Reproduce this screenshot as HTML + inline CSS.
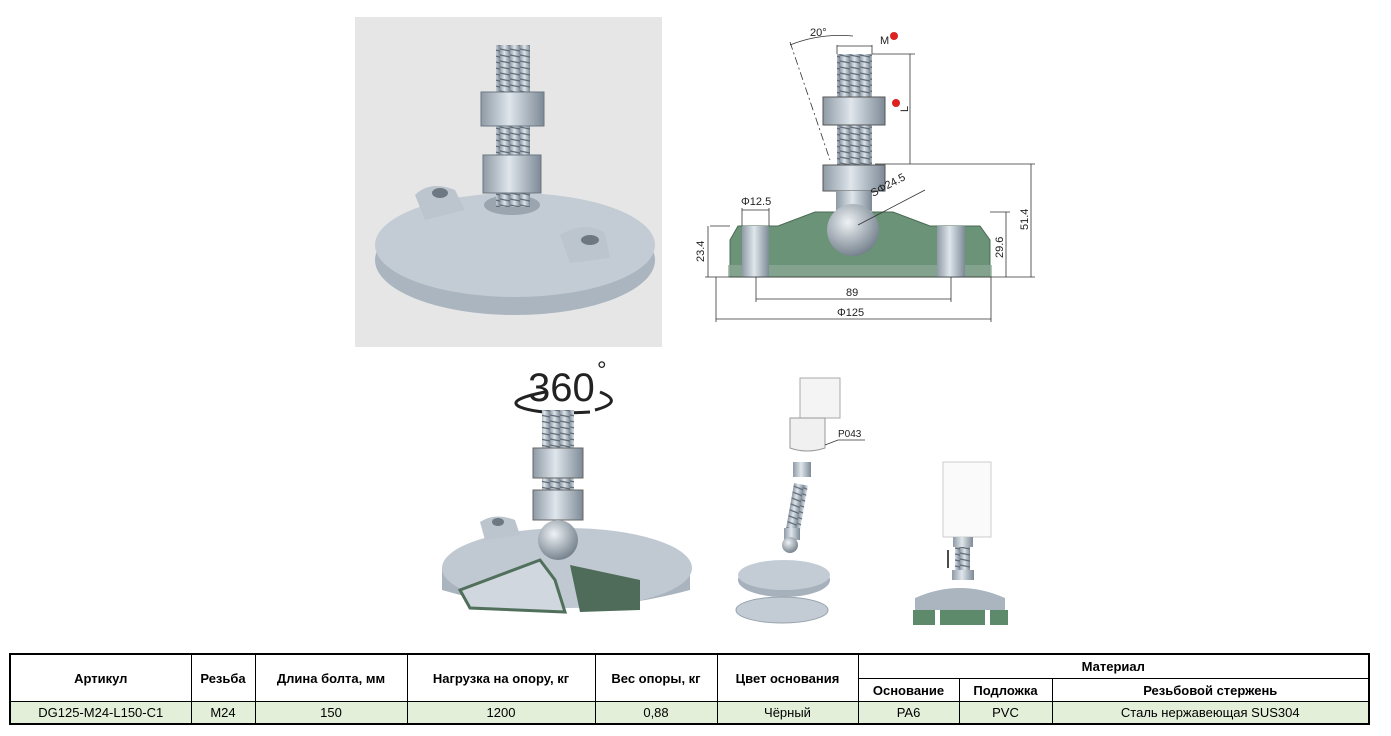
<!DOCTYPE html>
<html><head><meta charset="utf-8"><style>
body{margin:0;width:1391px;height:736px;background:#fff;position:relative;overflow:hidden;font-family:"Liberation Sans",sans-serif}
svg{position:absolute;left:0;top:0}
table{position:absolute;left:9px;top:653px;border-collapse:collapse;font-family:"Liberation Sans",sans-serif;font-size:13px;color:#000}
td{border:1px solid #000;text-align:center;padding:0;height:22px}
th{border:1px solid #000;font-weight:bold;font-size:13px;padding:0}
tr.d td{background:#e3efd9;height:21px}
table{border:2px solid #000}
</style></head><body>
<svg width="1391" height="650" viewBox="0 0 1391 650" font-family="Liberation Sans, sans-serif">
<defs>
<linearGradient id="m" x1="0" x2="1"><stop offset="0" stop-color="#8e9aa5"/><stop offset=".45" stop-color="#dfe6ec"/><stop offset="1" stop-color="#7d8a96"/></linearGradient>
<radialGradient id="b" cx=".4" cy=".35" r=".7"><stop offset="0" stop-color="#eef2f5"/><stop offset="1" stop-color="#6f7c88"/></radialGradient>
<pattern id="th" width="10" height="6" patternUnits="userSpaceOnUse"><rect width="10" height="6" fill="url(#m)"/><line x1="0" y1="1" x2="10" y2="3" stroke="#5f6b76" stroke-width="1.2"/></pattern>
</defs>
<!-- top-left photo -->
<rect x="355" y="17" width="307" height="330" fill="#e6e6e6"/>
<ellipse cx="515" cy="260" rx="140" ry="55" fill="#aab5c0"/>
<ellipse cx="515" cy="245" rx="140" ry="52" fill="#c3ccd5"/>
<path d="M415 195 q15-15 40-5 l10 20 -40 10z" fill="#bcc5ce"/><ellipse cx="440" cy="193" rx="8" ry="5" fill="#6d7883"/>
<path d="M560 235 q25-15 45-2 l5 25 -40 5z" fill="#bcc5ce"/><ellipse cx="590" cy="240" rx="9" ry="5" fill="#6d7883"/>
<ellipse cx="512" cy="205" rx="28" ry="10" fill="#9aa5af"/>
<rect x="496" y="45" width="34" height="162" fill="url(#th)"/>
<rect x="481" y="92" width="63" height="34" fill="url(#m)" stroke="#6b7782"/>
<rect x="483" y="155" width="58" height="38" fill="url(#m)" stroke="#6b7782"/>
<!-- technical drawing -->
<path d="M730 277 V240 L738 226 H778 L815 212 H893 L930 226 H980 L990 240 V277Z" fill="#6b9377" stroke="#4a6b55"/>
<rect x="728" y="265" width="264" height="12" fill="#8ea999" opacity=".7"/>
<rect x="742" y="226" width="27" height="51" fill="url(#m)"/>
<rect x="937" y="226" width="28" height="51" fill="url(#m)"/>
<rect x="837" y="54" width="35" height="112" fill="url(#th)"/>
<rect x="823" y="97" width="62" height="28" fill="url(#m)" stroke="#555"/>
<rect x="823" y="165" width="62" height="26" fill="url(#m)" stroke="#555"/>
<rect x="836" y="191" width="36" height="20" fill="url(#m)"/>
<circle cx="853" cy="230" r="26" fill="url(#b)"/>
<g stroke="#333" stroke-width="0.8" fill="none">
<line x1="837" y1="45" x2="837" y2="54"/><line x1="872" y1="45" x2="872" y2="54"/><line x1="837" y1="46" x2="872" y2="46"/>
<path d="M790 45 Q820 33 853 36"/><line x1="790" y1="42" x2="830" y2="160" stroke-dasharray="8 3 2 3"/>
<line x1="872" y1="54" x2="915" y2="54"/><line x1="910" y1="54" x2="910" y2="164"/><line x1="875" y1="164" x2="1035" y2="164"/>
<line x1="1031" y1="164" x2="1031" y2="277"/><line x1="990" y1="212" x2="1010" y2="212"/><line x1="1006" y1="212" x2="1006" y2="277"/>
<line x1="710" y1="226" x2="730" y2="226"/><line x1="708" y1="226" x2="708" y2="277"/><line x1="705" y1="277" x2="1035" y2="277"/>
<line x1="742" y1="208" x2="742" y2="226"/><line x1="769" y1="208" x2="769" y2="226"/><line x1="742" y1="210" x2="769" y2="210"/>
<line x1="756" y1="277" x2="756" y2="302"/><line x1="951" y1="277" x2="951" y2="302"/><line x1="756" y1="299" x2="951" y2="299"/>
<line x1="716" y1="277" x2="716" y2="322"/><line x1="991" y1="277" x2="991" y2="322"/><line x1="716" y1="319" x2="991" y2="319"/>
<line x1="858" y1="225" x2="925" y2="190"/>
</g>
<g font-size="11" fill="#222">
<text x="810" y="36">20°</text><text x="880" y="44">M</text><circle cx="894" cy="36" r="4" fill="#d22"/><circle cx="896" cy="103" r="4" fill="#d22"/>
<text x="908" y="112" transform="rotate(-90 908 112)">L</text>
<text x="741" y="205">Φ12.5</text><text x="873" y="197" transform="rotate(-28 873 197)">SΦ24.5</text>
<text x="704" y="262" transform="rotate(-90 704 262)">23.4</text><text x="1003" y="258" transform="rotate(-90 1003 258)">29.6</text><text x="1028" y="230" transform="rotate(-90 1028 230)">51.4</text>
<text x="846" y="296">89</text><text x="837" y="316">Φ125</text>
</g>
<!-- 360 view -->
<text x="528" y="401" font-size="40" fill="#222">360</text><text x="597" y="378" font-size="24" fill="#222">°</text>
<path d="M545 392 Q505 400 520 407 Q540 415 590 412" stroke="#222" stroke-width="3" fill="none"/><path d="M600 392 Q625 402 595 410" stroke="#222" stroke-width="3" fill="none"/>
<path d="M442 568 V590 Q560 625 690 590 V568Z" fill="#a9b4bf"/>
<ellipse cx="567" cy="568" rx="125" ry="40" fill="#c0c9d2"/>
<path d="M460 590 L540 560 L555 580 L565 612 L470 608Z" fill="#d0d7de" stroke="#51705c" stroke-width="3"/>
<path d="M570 565 L640 580 V610 L580 612Z" fill="#4f6b59"/>
<path d="M480 522 q15-10 35-2 l5 15 -35 5z" fill="#bcc5ce"/><ellipse cx="498" cy="522" rx="6" ry="4" fill="#6d7883"/>
<rect x="542" y="410" width="32" height="110" fill="url(#th)"/>
<rect x="533" y="448" width="50" height="30" fill="url(#m)" stroke="#666"/>
<rect x="533" y="490" width="50" height="30" fill="url(#m)" stroke="#666"/>
<circle cx="558" cy="540" r="20" fill="url(#b)"/>
<!-- exploded -->
<path d="M800 378 h40 v40 h-40z" fill="#f4f4f4" stroke="#aaa"/>
<path d="M790 418 h35 v30 q-18 6-35 0z" fill="#f0f0f0" stroke="#999"/>
<text x="838" y="437" font-size="10" fill="#222">P043</text><line x1="825" y1="445" x2="838" y2="440" stroke="#333" stroke-width=".7"/><line x1="838" y1="440" x2="865" y2="440" stroke="#333" stroke-width=".7"/>
<rect x="793" y="462" width="18" height="15" fill="url(#m)"/>
<rect x="790" y="484" width="14" height="46" fill="url(#th)" transform="rotate(10 797 507)"/>
<rect x="784" y="528" width="16" height="12" fill="url(#m)"/>
<circle cx="790" cy="545" r="8" fill="url(#b)"/>
<ellipse cx="784" cy="580" rx="46" ry="17" fill="#a6b1bc"/><ellipse cx="784" cy="575" rx="46" ry="15" fill="#c3ccd5"/>
<ellipse cx="782" cy="610" rx="46" ry="13" fill="#c3ccd5" stroke="#98a3ae"/>
<!-- installed -->
<rect x="943" y="462" width="48" height="75" fill="#fafafa" stroke="#ccc"/>
<rect x="953" y="537" width="20" height="10" fill="url(#m)"/><rect x="955" y="547" width="15" height="25" fill="url(#th)"/><rect x="952" y="570" width="22" height="10" fill="url(#m)"/>
<line x1="948" y1="550" x2="948" y2="568" stroke="#111" stroke-width="1.5"/>
<path d="M915 598 Q960 578 1005 598 V610 H915Z" fill="#aab5c0"/>
<rect x="913" y="610" width="22" height="15" fill="#5e8a6c"/><rect x="940" y="610" width="45" height="15" fill="#5e8a6c"/><rect x="990" y="610" width="18" height="15" fill="#5e8a6c"/>
</svg>
<table>
<colgroup><col style="width:181px"><col style="width:64px"><col style="width:152px"><col style="width:188px"><col style="width:122px"><col style="width:141px"><col style="width:101px"><col style="width:93px"><col style="width:317px"></colgroup>
<tr><th rowspan="2" style="height:46px">Артикул</th><th rowspan="2">Резьба</th><th rowspan="2">Длина болта, мм</th><th rowspan="2">Нагрузка на опору, кг</th><th rowspan="2">Вес опоры, кг</th><th rowspan="2">Цвет основания</th><th colspan="3" style="height:23px">Материал</th></tr>
<tr><th style="height:22px">Основание</th><th>Подложка</th><th>Резьбовой стержень</th></tr>
<tr class="d"><td>DG125-M24-L150-C1</td><td>M24</td><td>150</td><td>1200</td><td>0,88</td><td>Чёрный</td><td>PA6</td><td>PVC</td><td>Сталь нержавеющая SUS304</td></tr>
</table>
</body></html>
